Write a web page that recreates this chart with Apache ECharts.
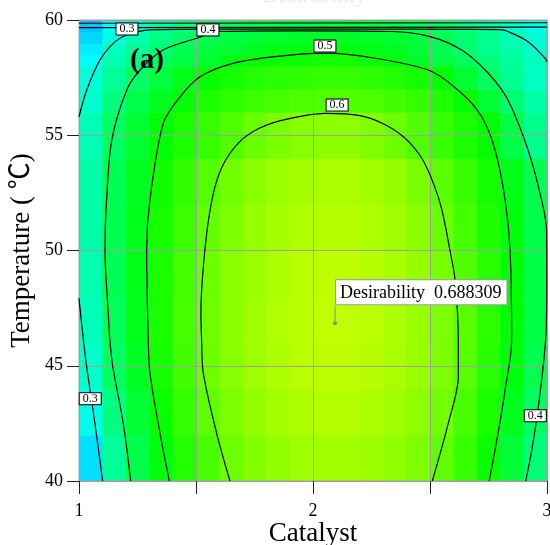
<!DOCTYPE html>
<html>
<head>
<meta charset="utf-8">
<title>Desirability contour</title>
<script src="https://cdn.jsdelivr.net/npm/echarts@6/dist/echarts.min.js"></script>
<style>
  html, body { margin: 0; padding: 0; background: #fff; }
  #chart { width: 550px; height: 545px; }
</style>
</head>
<body>
<div id="chart"></div>
<script>
// cell edges of the colour map (Catalyst / Temperature)
var xEdges = [1, 1.1, 1.2, 1.3, 1.4, 1.5, 1.6, 1.7, 1.8, 1.9, 2, 2.1, 2.2, 2.3, 2.4, 2.5, 2.6, 2.7, 2.8, 2.9, 3]
var yEdges = [40, 42, 44, 46, 48, 50, 52, 54, 56, 57, 58, 58.5, 59, 59.5, 60]

// desirability per cell, bottom row first
var desirability = [
  [0.220, 0.352, 0.426, 0.488, 0.532, 0.571, 0.607, 0.628, 0.643, 0.654, 0.659, 0.659, 0.653, 0.640, 0.622, 0.594, 0.552, 0.509, 0.447, 0.381],
  [0.270, 0.375, 0.446, 0.508, 0.550, 0.592, 0.622, 0.644, 0.660, 0.671, 0.676, 0.676, 0.670, 0.657, 0.637, 0.612, 0.571, 0.525, 0.471, 0.406],
  [0.300, 0.404, 0.467, 0.521, 0.565, 0.606, 0.632, 0.654, 0.669, 0.680, 0.685, 0.685, 0.679, 0.666, 0.647, 0.622, 0.586, 0.539, 0.489, 0.422],
  [0.318, 0.414, 0.474, 0.525, 0.569, 0.608, 0.635, 0.656, 0.672, 0.682, 0.687, 0.687, 0.681, 0.668, 0.648, 0.622, 0.587, 0.542, 0.497, 0.430],
  [0.328, 0.420, 0.477, 0.525, 0.566, 0.606, 0.632, 0.653, 0.669, 0.680, 0.685, 0.685, 0.678, 0.665, 0.644, 0.617, 0.580, 0.539, 0.496, 0.431],
  [0.332, 0.421, 0.475, 0.520, 0.558, 0.597, 0.624, 0.646, 0.662, 0.673, 0.678, 0.678, 0.671, 0.656, 0.634, 0.604, 0.567, 0.530, 0.488, 0.428],
  [0.333, 0.418, 0.469, 0.514, 0.548, 0.582, 0.612, 0.635, 0.652, 0.663, 0.668, 0.668, 0.660, 0.644, 0.620, 0.588, 0.554, 0.520, 0.478, 0.422],
  [0.322, 0.404, 0.452, 0.500, 0.526, 0.552, 0.578, 0.604, 0.620, 0.632, 0.637, 0.637, 0.626, 0.605, 0.579, 0.553, 0.527, 0.500, 0.430, 0.363],
  [0.300, 0.376, 0.426, 0.469, 0.506, 0.527, 0.545, 0.559, 0.569, 0.576, 0.580, 0.580, 0.574, 0.564, 0.549, 0.529, 0.504, 0.449, 0.392, 0.337],
  [0.285, 0.351, 0.404, 0.440, 0.476, 0.506, 0.520, 0.532, 0.541, 0.547, 0.550, 0.550, 0.544, 0.534, 0.519, 0.496, 0.451, 0.405, 0.356, 0.305],
  [0.256, 0.327, 0.373, 0.410, 0.433, 0.456, 0.479, 0.502, 0.510, 0.516, 0.519, 0.519, 0.508, 0.488, 0.462, 0.436, 0.409, 0.380, 0.348, 0.316],
  [0.233, 0.309, 0.349, 0.390, 0.418, 0.438, 0.455, 0.469, 0.479, 0.486, 0.489, 0.489, 0.483, 0.469, 0.450, 0.423, 0.391, 0.361, 0.330, 0.300],
  [0.210, 0.280, 0.330, 0.370, 0.400, 0.420, 0.435, 0.445, 0.455, 0.460, 0.462, 0.462, 0.458, 0.450, 0.440, 0.420, 0.390, 0.360, 0.320, 0.290],
  [0.190, 0.250, 0.300, 0.340, 0.370, 0.400, 0.415, 0.425, 0.435, 0.440, 0.442, 0.442, 0.440, 0.430, 0.415, 0.400, 0.370, 0.340, 0.300, 0.270]
]

// contour lines [catalyst, temperature]
var contour01 = [[1, 59.86], [3, 59.88]]
var contour02 = [[1, 59.67], [3, 59.69]]
var contour03Top = [[1.0, 55.8], [1.033, 56.96], [1.09, 58.27], [1.154, 59.06], [1.204, 59.35], [1.3, 59.57], [1.6, 59.6], [2.4, 59.6], [2.8, 59.58], [2.833, 59.5], [2.919, 59.06], [2.991, 58.35], [3.0, 58.18]]
var contour03Bottom = [[1.0, 47.93], [1.029, 45.25], [1.068, 42.5], [1.101, 40]]
var contour04 = [[1.221, 40], [1.189, 42.5], [1.144, 44.99], [1.132, 46.12], [1.125, 47.29], [1.111, 50.02], [1.118, 52.19], [1.14, 54.79], [1.204, 56.96], [1.261, 57.83], [1.359, 58.7], [1.503, 59.21], [1.594, 59.5], [1.944, 59.53], [2.336, 59.5], [2.5, 59.28], [2.635, 58.7], [2.748, 57.7], [2.833, 56.53], [2.919, 54.36], [2.977, 52.19], [2.998, 50.89], [2.999, 48.72], [2.994, 46.12], [2.963, 43.22], [2.935, 41.34], [2.909, 40]]
var contour05 = [[1.386, 40], [1.346, 42.08], [1.303, 44.69], [1.296, 46.12], [1.289, 50.02], [1.303, 52.19], [1.36, 55.52], [1.432, 56.67], [1.517, 57.54], [1.658, 58.12], [1.838, 58.41], [2.051, 58.56], [2.265, 58.34], [2.5, 57.8], [2.635, 56.82], [2.721, 55.8], [2.778, 54.36], [2.821, 52.19], [2.842, 50.02], [2.849, 46.12], [2.821, 43.95], [2.791, 42.08], [2.753, 40]]
var contour06 = [[1.645, 40], [1.588, 42.08], [1.531, 44.69], [1.524, 46.12], [1.521, 47.29], [1.538, 50.02], [1.568, 52.19], [1.61, 53.6], [1.68, 54.65], [1.77, 55.3], [1.88, 55.68], [2.051, 55.95], [2.2, 55.85], [2.3, 55.5], [2.39, 54.9], [2.465, 54.0], [2.515, 52.9], [2.55, 51.8], [2.585, 50.02], [2.607, 48.72], [2.621, 46.12], [2.621, 44.52], [2.578, 42.5], [2.51, 40]]

var contourLabelText = ['0.3', '0.4', '0.5', '0.6', '0.3', '0.4']
var contourLabelPos = [[1.205, 59.61], [1.551, 59.57], [2.051, 58.87], [2.103, 56.31], [1.048, 43.57], [2.95, 42.83]]

// optimum point
var optimum = [2.094, 46.84]
var optimumValue = 0.688309
var optimumLeader = [[2.094, 46.84], [2.094, 47.57]]

var serif = "'Liberation Serif', 'Noto Sans CJK SC', serif"

var cells = []
for (var r = 0; r < yEdges.length - 1; r++) {
  for (var c = 0; c < xEdges.length - 1; c++) {
    cells.push([xEdges[c], xEdges[c + 1], yEdges[r], yEdges[r + 1], desirability[r][c]])
  }
}

function contourLine(points) {
  return {
    type: 'line',
    data: points,
    smooth: 0.3,
    symbol: 'none',
    silent: true,
    lineStyle: { color: '#000', width: 1.2 },
    z: 3
  }
}

var chart = echarts.init(document.getElementById('chart'))
chart.setOption({
  animation: false,
  backgroundColor: '#fff',
  graphic: [
    {
      type: 'text', left: 262, top: -15, silent: true,
      style: { text: 'Desirability', fill: '#ececec', font: '22px ' + serif }
    },
    {
      type: 'text', left: 130, top: 46, z: 10,
      style: { text: '(a)', fill: '#000', font: 'bold 29px ' + serif }
    }
  ],
  grid: {
    left: 79, right: 3, top: 20, bottom: 64,
    containLabel: false,
    outerBoundsMode: 'none',
    show: true, borderColor: '#a0a0a0', borderWidth: 1, backgroundColor: 'transparent'
  },
  visualMap: {
    show: false,
    type: 'continuous',
    min: 0,
    max: 1,
    dimension: 4,
    seriesIndex: 0,
    inRange: { color: ['#0000ff', '#00ffff', '#00ff00', '#ffff00', '#ff0000'] }
  },
  xAxis: {
    type: 'value', min: 1, max: 3, interval: 0.5,
    name: 'Catalyst', nameLocation: 'middle', nameGap: 39, nameMoveOverlap: false,
    nameTextStyle: { fontFamily: serif, fontSize: 27, color: '#000' },
    axisLine: { show: true, lineStyle: { color: '#a0a0a0' } },
    axisTick: { show: true, length: 13, lineStyle: { color: '#222' } },
    axisLabel: {
      margin: 21, fontFamily: serif, fontSize: 18, color: '#000',
      formatter: function (v) { return v % 1 === 0 ? String(v) : '' }
    },
    splitLine: { show: true, lineStyle: { color: '#a0a0a0', width: 1 } }
  },
  yAxis: {
    type: 'value', min: 40, max: 60, interval: 5,
    name: 'Temperature ( ℃)', nameLocation: 'middle', nameGap: 44, nameMoveOverlap: false,
    nameTextStyle: { fontFamily: serif, fontSize: 27, color: '#000' },
    axisLine: { show: true, lineStyle: { color: '#a0a0a0' } },
    axisTick: { show: true, length: 12, lineStyle: { color: '#222' } },
    axisLabel: { margin: 16, fontFamily: serif, fontSize: 18, color: '#000' },
    splitLine: { show: true, lineStyle: { color: '#a0a0a0', width: 1 } }
  },
  series: [
    {
      type: 'custom',
      data: cells,
      encode: { x: [0, 1], y: [2, 3] },
      clip: true,
      silent: true,
      z: -1,
      renderItem: function (params, api) {
        var p0 = api.coord([api.value(0), api.value(3)])
        var p1 = api.coord([api.value(1), api.value(2)])
        return {
          type: 'rect',
          shape: { x: p0[0], y: p0[1], width: p1[0] - p0[0] + 0.6, height: p1[1] - p0[1] + 0.6 },
          style: { fill: api.visual('color') }
        }
      }
    },
    contourLine(contour01),
    contourLine(contour02),
    contourLine(contour03Top),
    contourLine(contour03Bottom),
    contourLine(contour04),
    contourLine(contour05),
    contourLine(contour06),
    {
      type: 'scatter',
      symbolSize: 0,
      silent: true,
      z: 5,
      itemStyle: { opacity: 1 },
      data: contourLabelPos.map(function (p, i) { return { value: p, name: contourLabelText[i] } }),
      label: {
        show: true, position: 'inside', formatter: '{b}',
        fontFamily: serif, fontSize: 12, color: '#000', lineHeight: 11,
        backgroundColor: '#fff', borderColor: '#000', borderWidth: 1, padding: [0, 3, 0, 3]
      }
    },
    {
      type: 'line',
      data: optimumLeader,
      symbol: 'none',
      silent: true,
      lineStyle: { color: '#8a8a8a', width: 1 },
      z: 5
    },
    {
      type: 'scatter',
      data: [optimum],
      symbol: 'circle',
      symbolSize: 4,
      silent: true,
      itemStyle: { color: '#8a8a8a', opacity: 1 },
      z: 6,
      label: {
        show: true,
        position: [3, -41],
        formatter: 'Desirability  ' + optimumValue,
        fontFamily: serif, fontSize: 18, color: '#000', lineHeight: 19,
        backgroundColor: '#fff', borderColor: '#9a9a9a', borderWidth: 1, padding: [3, 5, 2, 4]
      }
    }
  ]
})
</script>
</body>
</html>
